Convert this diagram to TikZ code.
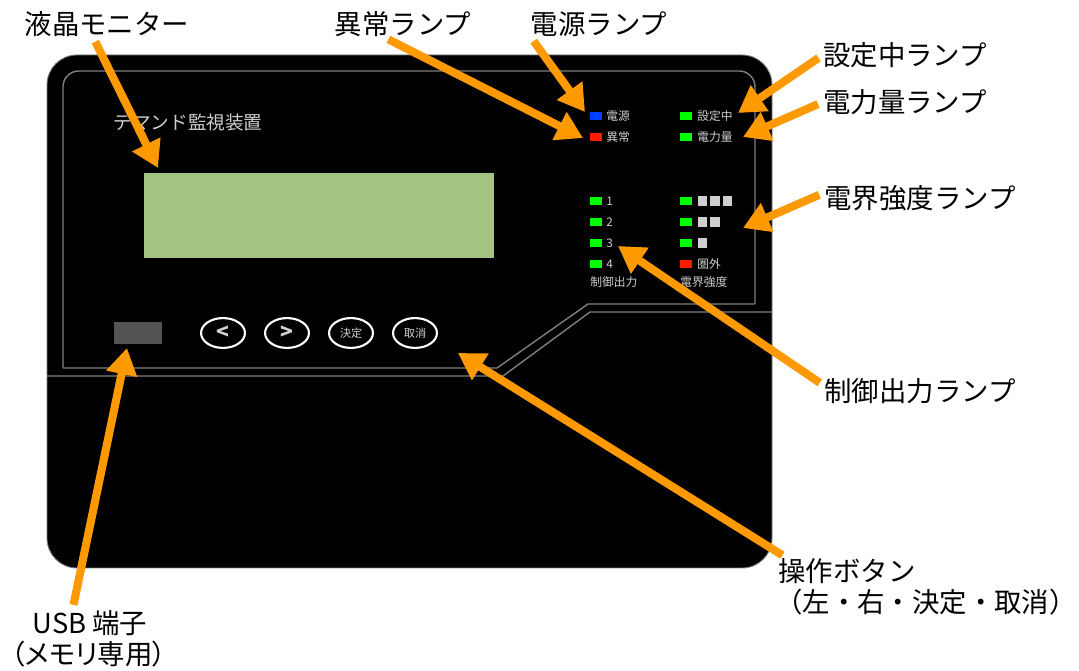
\documentclass[tikz,border=0pt]{standalone}
\usepackage{fontspec}
\usepackage{xcolor}
\setmainfont{Noto Sans CJK JP}
\usetikzlibrary{arrows.meta}
\definecolor{calloutorange}{HTML}{FF9900}
\definecolor{lcdgreen}{HTML}{A3C382}
\definecolor{panelgray}{HTML}{7F7F7F}
\definecolor{printgray}{HTML}{CFCFCF}
\definecolor{ledblue}{HTML}{0040FF}
\definecolor{ledred}{HTML}{FF1A00}
\tikzset{
    callout/.style={draw=calloutorange, line width=4.6pt, shorten <=3pt, -{Triangle[length=15pt,width=17pt]}},
    calllabel/.style={inner sep=0pt, font=\fontsize{15.6}{18}\selectfont},
    panelline/.style={draw=panelgray, line width=0.8pt},
    printtext/.style={inner sep=0pt, text=printgray, font=\fontsize{6.7}{8}\selectfont},
    ledbox/.style={minimum width=6.4pt, minimum height=4.4pt, inner sep=0pt, fill=#1},
    barbox/.style={minimum width=5.2pt, minimum height=5.4pt, inner sep=0pt, fill=printgray},
    keybox/.style={ellipse, draw=white, line width=1.2pt, minimum width=25pt, minimum height=17pt, inner sep=0pt, text=printgray},
}
\usetikzlibrary{shapes.geometric}
\begin{document}
\begin{tikzpicture}[x=0.02cm, y=-0.02cm]
    \useasboundingbox (0,0) rectangle (1079,671);
    % body of the unit
    \draw [fill=black, draw=panelgray, line width=0.5pt, rounded corners=17pt] (47,55) rectangle (772,568);
    \draw [panelline, rounded corners=9pt] (63,368) -- (63,71) -- (755,71) -- (755,304);
    \draw [panelline] (755,304) -- (588,304) -- (497,368) -- (63,368);
    \draw [panelline] (47,376) -- (503,376) -- (590,312) -- (772,312);
    \node [printtext, font=\fontsize{10.6}{12}\selectfont] (title) at (188,122) {デマンド監視装置};
    \node [fill=lcdgreen, inner sep=0pt, minimum width=350*0.569pt, minimum height=85*0.569pt] (lcd) at (319,215.5) {};
    \node [fill=black!67, inner sep=0pt, minimum width=48*0.569pt, minimum height=22*0.569pt] (usbport) at (138,333) {};

    % keys
    \node [keybox, font=\bfseries\fontsize{12}{12}\selectfont] (keyleft) at (223,333) {<};
    \node [keybox, font=\bfseries\fontsize{12}{12}\selectfont] (keyright) at (287,333) {>};
    \node [keybox, font=\fontsize{6.4}{8}\selectfont] (keyok) at (351,333) {決定};
    \node [keybox, font=\fontsize{6.4}{8}\selectfont] (keycancel) at (415,333) {取消};

    % lamps, left column
    \node [ledbox=ledblue] (ledpower) at (596,116) {};
    \node [ledbox=ledred] (ledfault) at (596,137) {};
    \node [ledbox=green] (ledone) at (596,201) {};
    \node [ledbox=green] (ledtwo) at (596,222) {};
    \node [ledbox=green] (ledthree) at (596,243) {};
    \node [ledbox=green] (ledfour) at (596,264) {};
    \node [printtext, anchor=west] (txtpower) at (606,116) {電源};
    \node [printtext, anchor=west] (txtfault) at (606,137) {異常};
    \node [printtext, anchor=west] (txtone) at (606,201) {1};
    \node [printtext, anchor=west] (txttwo) at (606,222) {2};
    \node [printtext, anchor=west] (txtthree) at (606,243) {3};
    \node [printtext, anchor=west] (txtfour) at (606,264) {4};
    \node [printtext, anchor=west] (txtoutput) at (590,282) {制御出力};

    % lamps, right column
    \node [ledbox=green] (ledsetting) at (686,116) {};
    \node [ledbox=green] (ledenergy) at (686,137) {};
    \node [ledbox=green] (ledhigh) at (686,201) {};
    \node [ledbox=green] (ledmid) at (686,222) {};
    \node [ledbox=green] (ledlow) at (686,243) {};
    \node [ledbox=ledred] (lednone) at (686,264) {};
    \node [printtext, anchor=west] (txtsetting) at (697,116) {設定中};
    \node [printtext, anchor=west] (txtenergy) at (697,137) {電力量};
    \node [barbox] (barhighone) at (702.5,201) {};
    \node [barbox] (barhightwo) at (715,201) {};
    \node [barbox] (barhighthree) at (727.5,201) {};
    \node [barbox] (barmidone) at (702.5,222) {};
    \node [barbox] (barmidtwo) at (715,222) {};
    \node [barbox] (barlowone) at (702.5,243) {};
    \node [printtext, anchor=west] (txtnone) at (697,264) {圏外};
    \node [printtext, anchor=west] (txtfield) at (680,282) {電界強度};

    % labels round the unit
    \node [calllabel] (lblmonitor) at (107,24) {液晶モニター};
    \node [calllabel] (lblfault) at (403,24) {異常ランプ};
    \node [calllabel] (lblpower) at (599,24) {電源ランプ};
    \node [calllabel] (lblsetting) at (905,55) {設定中ランプ};
    \node [calllabel] (lblenergy) at (905,102) {電力量ランプ};
    \node [calllabel] (lblfield) at (920,198) {電界強度ランプ};
    \node [calllabel] (lbloutput) at (920,391) {制御出力ランプ};
    \node [calllabel] (lblkeys) at (847,571) {操作ボタン};
    \node [calllabel] (lblkeysub) at (926,602) {（左・右・決定・取消）};
    \node [calllabel] (lblusb) at (90,623) {USB 端子};
    \node [calllabel, font=\fontsize{15.6}{18}\selectfont\addfontfeature{RawFeature=+palt}] (lblusbsub) at (89,654) {（メモリ専用）};

    % arrow ends
    \coordinate (tipmonitor) at (158,168);
    \coordinate (tipfault) at (583,138);
    \coordinate (tippower) at (585,112);
    \coordinate (tipsetting) at (738,113);
    \coordinate (tipenergy) at (743,137);
    \coordinate (tipfield) at (743,228);
    \coordinate (tipoutput) at (618,246);
    \coordinate (tipkeys) at (458,353);
    \coordinate (tipusb) at (127,348);

    \draw [callout] ([xshift=-8pt]lblmonitor.south) -- (tipmonitor);
    \draw [callout] ([xshift=-11pt]lblfault.south) -- (tipfault);
    \draw [callout] (lblpower.south west) -- (tippower);
    \draw [callout] (lblsetting.west) -- (tipsetting);
    \draw [callout] (lblenergy.west) -- (tipenergy);
    \draw [callout] ([yshift=3pt]lblfield.west) -- (tipfield);
    \draw [callout] ([yshift=3pt]lbloutput.west) -- (tipoutput);
    \draw [callout] ([xshift=5pt]lblkeys.north west) -- (tipkeys);
    \draw [callout] ([xshift=-10pt]lblusb.north) -- (tipusb);
\end{tikzpicture}
\end{document}
